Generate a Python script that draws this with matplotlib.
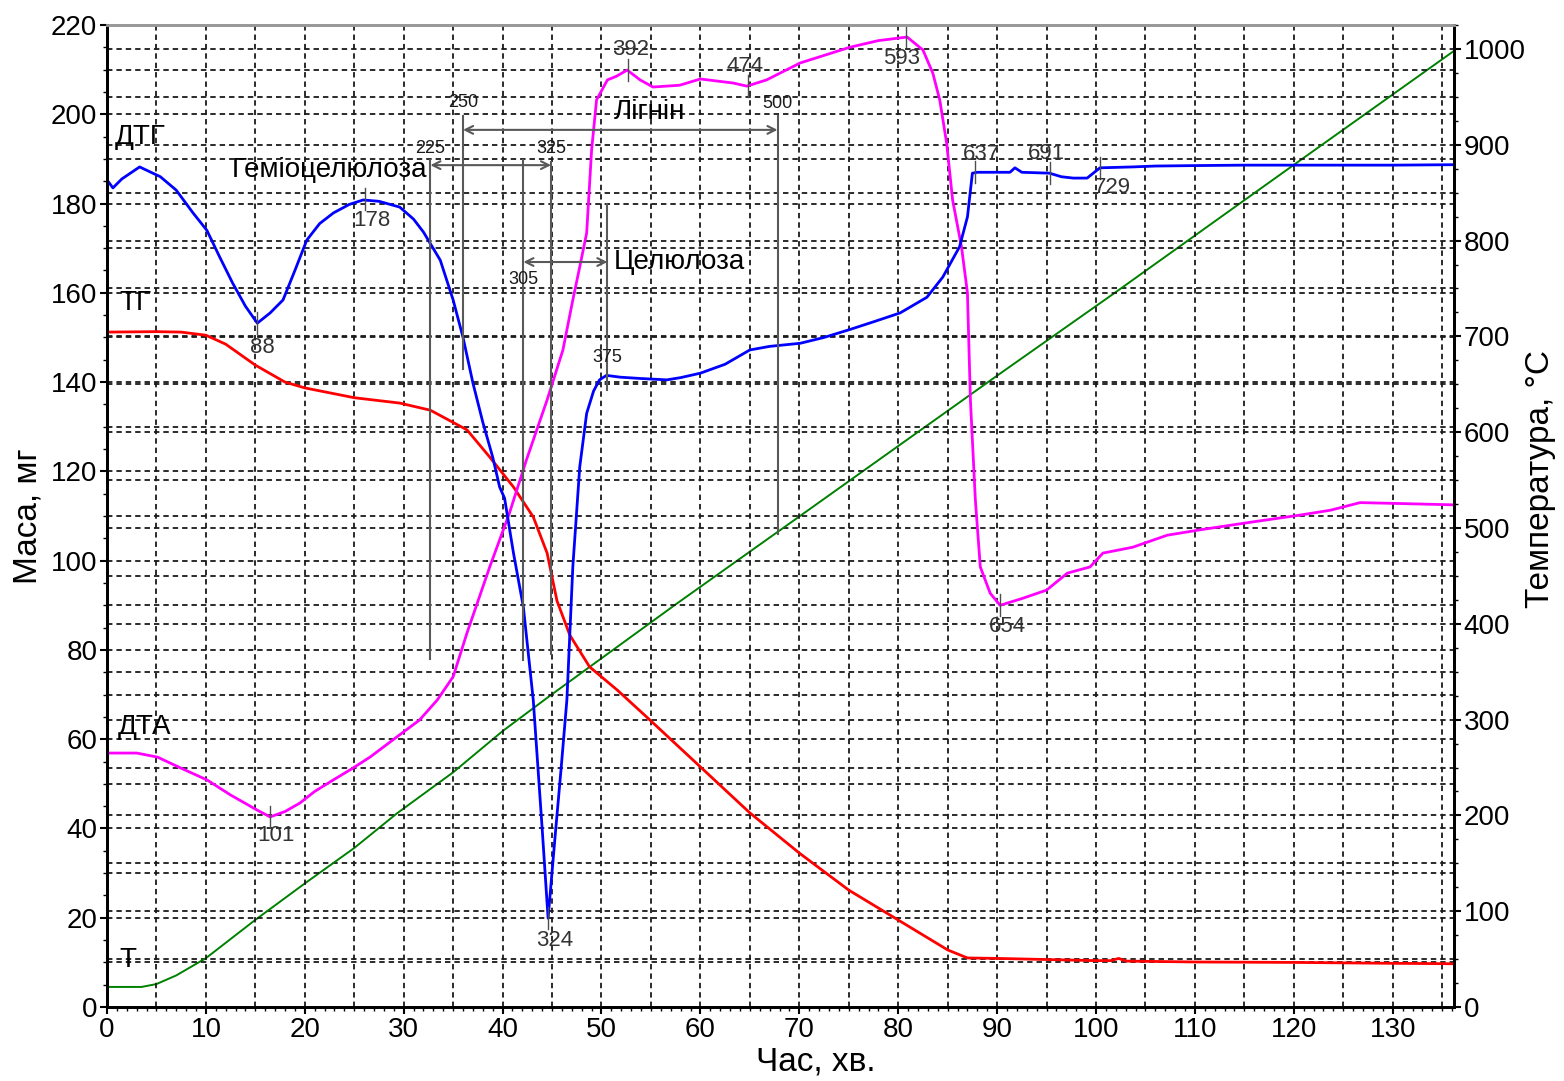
import numpy as np
import matplotlib
matplotlib.use("Agg")
import matplotlib.pyplot as plt
from matplotlib.ticker import MultipleLocator

plt.rcParams['font.family'] = ['Liberation Sans', 'DejaVu Sans']

# ТГ - маса, мг
tg_t = [0, 5, 7.5, 10, 12, 15, 18, 20, 25, 29.6, 32.7, 36.4, 38.7, 41.1, 43.1, 44.5,
        45.5, 46.8, 48.8, 51.6, 54.9, 60, 65, 70, 75, 80, 85, 87, 90, 100, 101.5,
        102.3, 103, 110, 120, 130, 136.2]
tg_m = [151.2, 151.3, 151.2, 150.5, 148.5, 143.8, 140, 138.7, 136.5, 135.3, 133.7,
        129.3, 123.2, 116.5, 109.8, 101.7, 91, 83.3, 76.2, 71, 64.3, 53.8, 43.5,
        34.5, 26.2, 19.5, 12.8, 11, 10.9, 10.4, 10.4, 10.9, 10.3, 10.1, 10, 9.8, 9.7]

# ДТГ
dtg_t = [0, 0.6, 1.5, 3.3, 5.4, 7, 8.7, 10.1, 11.4, 12.7, 14, 15.2, 16.5, 17.8, 19,
         20.2, 21.5, 22.9, 24.5, 25.9, 27.5, 29.6, 31, 32, 33.7, 35, 36, 37, 38, 39,
         39.7, 40.2, 41.1, 42.1, 43.1, 44, 44.6, 45.3, 45.9, 46.5, 47.1, 47.8, 48.5,
         49.2, 49.8, 50.5, 51.9, 54, 56.6, 58, 60, 62.5, 65, 67, 70.1, 72.5, 75,
         77.5, 80.2, 82.9, 84.5, 86.2, 87, 87.5, 88, 90, 91.3, 91.8, 92.5, 95.3,
         96.5, 97.7, 99.1, 100.4, 103.7, 106, 110, 115, 120, 125, 130, 136.2]
dtg_m = [185.3, 183.5, 185.5, 188.2, 186, 183, 177.9, 174, 168, 162.2, 157, 153.2,
         155.5, 158.4, 165, 171.8, 175.5, 177.9, 179.8, 180.8, 180.5, 179.2, 176.5,
         173.6, 167.3, 158.4, 150, 139.8, 131, 123.2, 116.5, 114, 101.7, 89.6, 68.8,
         40, 19.9, 38, 53, 68.8, 98.6, 121, 133, 138, 140.5, 141.5, 141.1, 140.8,
         140.5, 141, 142, 144, 147.2, 148, 148.7, 150, 151.7, 153.5, 155.5, 159,
         163.5, 170.3, 177, 186.8, 187, 187, 187, 188, 187, 186.8, 186, 185.7, 185.7,
         188, 188.2, 188.4, 188.5, 188.6, 188.6, 188.6, 188.6, 188.7]

# ДТА
dta_t = [0, 3, 5.1, 7.5, 10.1, 12.5, 15.2, 16.5, 18, 19.5, 21, 22.9, 24.7, 26.6,
         29.3, 31.6, 33.4, 35, 36.4, 38.7, 40.7, 42.4, 44.5, 46.1, 47.1, 47.8, 48.5,
         49, 49.5, 50.6, 51.5, 52.6, 53.9, 55.2, 57.9, 60, 63.3, 64.7, 66.7, 70.1,
         75.1, 78, 80.9, 82.5, 83.5, 84.2, 84.9, 85.5, 86.4, 87, 87.3, 87.8, 88.3,
         89.3, 90.3, 92.5, 95, 97.1, 99.4, 100.7, 103.7, 107.2, 110.5, 115.6, 120.6,
         123.7, 126.7, 130.7, 136.2]
dta_m = [56.9, 56.9, 56, 53.5, 50.9, 47.5, 44.1, 42.6, 43.8, 45.7, 48.3, 50.9, 53.3,
         56, 60.5, 64.3, 68.8, 74, 83.8, 98.6, 110.7, 122.5, 136, 147.2, 158.4, 165.8,
         173.4, 192, 203.2, 207.7, 208.5, 209.9, 207.7, 206.1, 206.5, 207.9, 207,
         206.3, 207.7, 211.5, 215, 216.5, 217.3, 214.4, 209.2, 203.2, 193.5, 180.8,
         170.3, 160, 136, 113.6, 98.6, 92.7, 90, 91.5, 93.4, 97.2, 98.6, 101.7, 103,
         105.7, 106.9, 108.6, 110.2, 111.3, 113, 112.8, 112.5]

# Т - температура, °С
temp_t = [0, 3.5, 5, 7, 10, 15, 20, 25, 29.3, 35, 40, 44.8, 57.6, 70, 80.2, 90,
          101.7, 120, 136.2]
temp_c = [21, 21, 24, 33, 51, 91, 129, 166, 202, 245, 288, 325, 421, 512, 587, 659,
          744, 879, 998]

# Підписи піків: час, значення на кривій, текст, позиція тексту
pik_t = [15.2, 26.1, 44.6, 16.5, 52.7, 64.8, 80.8, 90.3, 87.8, 95.3, 100.4]
pik_m = [153.2, 181, 19.9, 42.6, 209.9, 206.3, 217.5, 90, 187, 186.8, 188]
pik_txt = ['88', '178', '324', '101', '392', '474', '593', '654', '637', '691', '729']
pik_tx = [15.7, 26.8, 45.3, 17.1, 52.9, 64.5, 80.3, 91, 88.4, 95, 101.7]
pik_ty = [147.8, 176.3, 15, 38.5, 214.4, 210.8, 212.6, 85.3, 190.9, 191.1, 183.5]

# Межі стадій розкладу
mezha_t = [32.7, 36.0, 42.1, 44.9, 50.6, 67.8]
mezha_top = [189.7, 199.5, 189.7, 189.3, 180, 199.5]
mezha_bot = [78, 143, 77.7, 79, 138.2, 106]
mezha_txt = ['225', '250', '305', '325', '375', '500']
mezha_ty = [192.4, 202.7, 162.9, 192.4, 145.4, 202.3]

fig = plt.figure(figsize=(15.64, 10.81), dpi=100)
ax = fig.add_axes([0.0684, 0.0684, 0.8613, 0.9085])
ax2 = ax.twinx()
ax.set_zorder(ax2.get_zorder() + 1)
ax.patch.set_visible(False)

sitka = dict(color='0.1', lw=1.3, linestyle=(0, (3, 2.2)), zorder=0)
for x in np.arange(5, 136, 5):
    ax.axvline(x, **sitka)
for y in np.arange(10, 220, 10):
    ax.axhline(y, **sitka)
for y in np.arange(50, 1025, 50):
    ax2.axhline(y, **sitka)

ax2.plot(temp_t, temp_c, color='#008000', lw=1.4)
ax.plot(tg_t, tg_m, color='#ff0000', lw=2)
ax.plot(dta_t, dta_m, color='#ff00ff', lw=2)
ax.plot(dtg_t, dtg_m, color='#0000ff', lw=2)

for t, m, s, tx, ty in zip(pik_t, pik_m, pik_txt, pik_tx, pik_ty):
    ax.plot([t, t], [m - 2.5, m + 2.5], color='0.3', lw=1)
    ax.text(tx, ty, s, fontsize=16, color='0.2', ha='center', va='center')

for t, top, bot, s, ty in zip(mezha_t, mezha_top, mezha_bot, mezha_txt, mezha_ty):
    ax.plot([t, t], [bot, top], color='0.35', lw=1.5)
    ax.text(t, ty, s, fontsize=13, color='0.1', ha='center', va='center')

strilka = dict(arrowstyle='<->', color='0.35', lw=1.5, mutation_scale=14,
               shrinkA=0, shrinkB=0)
ax.annotate('', xy=(32.7, 188.6), xytext=(44.9, 188.6), arrowprops=strilka)
ax.annotate('', xy=(36.0, 196.5), xytext=(67.8, 196.5), arrowprops=strilka)
ax.annotate('', xy=(42.1, 166.9), xytext=(50.6, 166.9), arrowprops=strilka)

ax.text(32.4, 187.5, 'Геміоцелюлоза', fontsize=20, ha='right', va='center')
ax.text(54.9, 200.5, 'Лігнін', fontsize=20, ha='center', va='center')
ax.text(51.2, 166.9, 'Целюлоза', fontsize=20, ha='left', va='center')

ax.text(0.8, 194.9, 'ДТГ', fontsize=20, va='center')
ax.text(1.3, 157.7, 'ТГ', fontsize=20, va='center')
ax.text(1.1, 62.7, 'ДТА', fontsize=20, va='center')
ax.text(1.3, 10.5, 'Т', fontsize=20, va='center')

ax.set_xlim(0, 136.2)
ax.set_ylim(0, 220)
ax2.set_ylim(0, 1025)
ax.xaxis.set_major_locator(MultipleLocator(10))
ax.xaxis.set_minor_locator(MultipleLocator(1))
ax.yaxis.set_major_locator(MultipleLocator(20))
ax.yaxis.set_minor_locator(MultipleLocator(5))
ax2.yaxis.set_major_locator(MultipleLocator(100))
ax2.yaxis.set_minor_locator(MultipleLocator(25))

for a in (ax, ax2):
    a.tick_params(which='major', labelsize=20, length=5, width=1.5, pad=2)
    a.tick_params(which='minor', length=3, width=1)
    for sp in a.spines.values():
        sp.set_linewidth(2)
ax.spines['top'].set_color('0.6')
ax2.spines['top'].set_color('0.6')

ax.set_xlabel('Час, хв.', fontsize=24)
ax.xaxis.set_label_coords(0.526, -0.04)
ax.set_ylabel('Маса, мг', fontsize=24)
ax.yaxis.set_label_coords(-0.047, 0.5)
ax2.set_ylabel('Температура, °С', fontsize=24)
ax2.yaxis.set_label_coords(1.053, 0.538)

fig.savefig('out.png', dpi=100)
